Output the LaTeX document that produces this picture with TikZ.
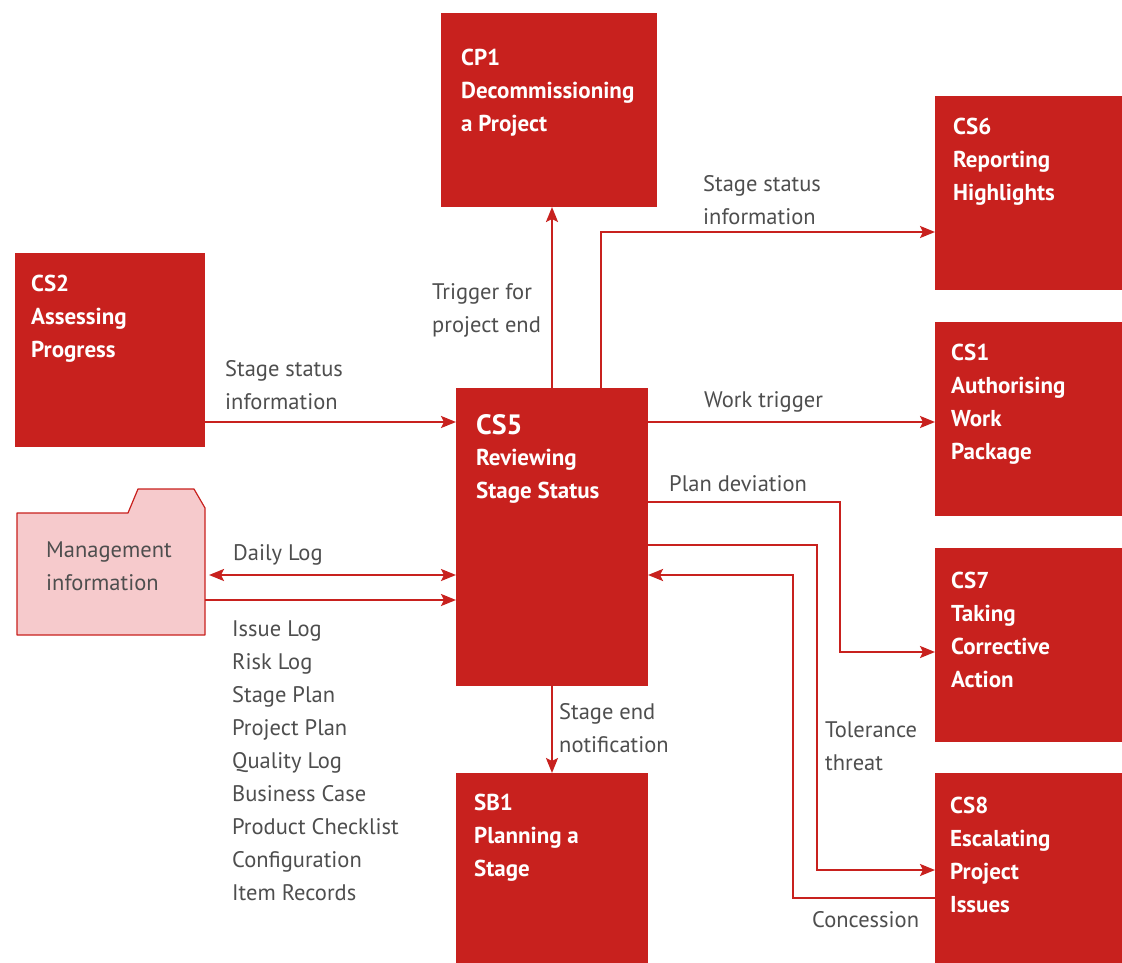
\documentclass[tikz,border=0pt]{standalone}
\usepackage{fontspec}
\setmainfont{PT Sans}
\usetikzlibrary{arrows.meta}
\definecolor{boxred}{RGB}{200,33,30}
\definecolor{folderpink}{RGB}{246,202,204}
\definecolor{labelgrey}{RGB}{78,78,78}

\begin{document}
\begin{tikzpicture}[x=1pt,y=-1pt,
  procbox/.style={fill=boxred, draw=none, inner sep=0pt, outer sep=0pt,
    anchor=north west},
  boxtext/.style={text=white, font=\bfseries\fontsize{23}{33}\selectfont,
    align=left, anchor=west, inner sep=0pt},
  flowtext/.style={text=labelgrey, font=\fontsize{22.5}{33}\selectfont,
    align=left, anchor=west, inner sep=0pt},
  flow/.style={draw=boxred, line width=2.3pt,
    -{Stealth[length=15pt,width=12pt,inset=3pt]}},
  twoway/.style={draw=boxred, line width=2.3pt,
    {Stealth[length=15pt,width=12pt,inset=3pt]}-{Stealth[length=15pt,width=12pt,inset=3pt]}}
]
\fill[white] (0,0) rectangle (1122,963);
\useasboundingbox (0,0) rectangle (1122,963);

% process boxes
\node[procbox, minimum width=216pt, minimum height=194pt] (cp1) at (441,13) {};
\node[procbox, minimum width=187pt, minimum height=194pt] (cs6) at (935,96) {};
\node[procbox, minimum width=190pt, minimum height=194pt] (cs2) at (15,253) {};
\node[procbox, minimum width=192pt, minimum height=298pt] (cs5) at (456,388) {};
\node[procbox, minimum width=187pt, minimum height=194pt] (cs1) at (935,322) {};
\node[procbox, minimum width=187pt, minimum height=194pt] (cs7) at (935,548) {};
\node[procbox, minimum width=187pt, minimum height=190pt] (cs8) at (935,773) {};
\node[procbox, minimum width=192pt, minimum height=190pt] (sb1) at (456,773) {};

% box titles
\node[boxtext] (cp1t) at (461,93) {CP1\\Decommissioning\\a Project};
\node[boxtext] (cs6t) at (953,162) {CS6\\Reporting\\Highlights};
\node[boxtext] (cs2t) at (31,319) {CS2\\Assessing\\Progress};
\node[boxtext, anchor=base west] (cs5n) at (476,434) {\fontsize{28}{33}\selectfont CS5};
\node[boxtext] (cs5t) at (476,476.5) {Reviewing\\Stage Status};
\node[boxtext] (cs1t) at (951,404.5) {CS1\\Authorising\\Work\\Package};
\node[boxtext] (cs7t) at (951,629.5) {CS7\\Taking\\Corrective\\Action};
\node[boxtext] (cs8t) at (950,854.5) {CS8\\Escalating\\Project\\Issues};
\node[boxtext] (sb1t) at (474,838) {SB1\\Planning a\\Stage};

% management information folder
\filldraw[fill=folderpink, draw=boxred, line width=1.2pt, line join=round]
  (17,513) -- (128,513) -- (138,489) -- (194,489) -- (205,508)
  -- (205,635) -- (17,635) -- cycle;
\node[inner sep=0pt, outer sep=0pt, anchor=north west,
  minimum width=188pt, minimum height=122pt] (mi) at (17,513) {};
\node[flowtext] (mit) at (46,566.5) {Management\\information};

% connectors
\draw[flow] (cs2.east |- 0,422) -- (cs5.west |- 0,422);
\draw[flow] (cs5.north) -- (cs5.north |- cp1.south);
\draw[flow] (cs5.north -| 601,0) |- (cs6.west |- 0,232);
\draw[flow] (cs5.east |- 0,422) -- (cs1.west |- 0,422);
\draw[flow] (cs5.east |- 0,502) -- (840,502) |- (cs7.west |- 0,652);
\draw[flow] (cs5.east |- 0,545) -- (817,545) |- (cs8.west |- 0,870);
\draw[flow] (cs8.west |- 0,898) -- (793,898) |- (cs5.east |- 0,575);
\draw[flow] (cs5.south) -- (sb1.north);
\draw[twoway] ([xshift=4pt]mi.east |- 0,575) -- (cs5.west |- 0,575);
\draw[flow] (mi.east |- 0,600) -- (cs5.west |- 0,600);

% connector labels
\node[flowtext] (l1) at (225,385.5) {Stage status\\information};
\node[flowtext] (l2) at (432,310.5) {Trigger for\\project end};
\node[flowtext] (l3) at (703,200) {Stage status\\information};
\node[flowtext] (l4) at (704,402) {Work trigger};
\node[flowtext] (l5) at (669,484) {Plan deviation};
\node[flowtext] (l6) at (233,555) {Daily Log};
\node[flowtext] (l7) at (232,760.5) {Issue Log\\Risk Log\\Stage Plan\\Project Plan\\Quality Log\\Business Case\\Product Checklist\\Configuration\\Item Records};
\node[flowtext] (l8) at (559,728.5) {Stage end\\notification};
\node[flowtext] (l9) at (825,746.5) {Tolerance\\threat};
\node[flowtext] (l10) at (812,920) {Concession};
\end{tikzpicture}
\end{document}
